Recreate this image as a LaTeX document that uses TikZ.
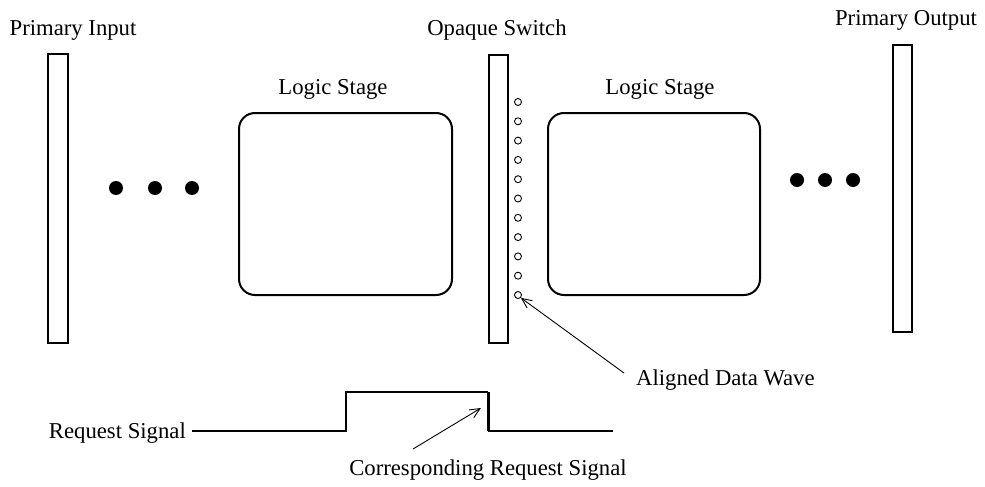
\documentclass[tikz,border=0pt]{standalone}
\usepackage{fontspec}
\setmainfont{Liberation Serif}
\usetikzlibrary{arrows.meta}
\begin{document}
\begin{tikzpicture}[x=1pt,y=-1pt,
  lbl/.style={font=\fontsize{22.7}{26}\selectfont, inner sep=0pt, anchor=base},
  latch/.style={draw, line width=1.5pt},
  stagebox/.style={draw, line width=2pt, rounded corners=16pt},
  bigdot/.style={circle, fill, inner sep=0pt, minimum size=14pt},
  smalldot/.style={circle, draw, line width=0.9pt, inner sep=0pt, minimum size=7pt},
  wave/.style={line width=1.2pt},
  pointer/.style={line width=0.9pt, -{Straight Barb[length=10pt,width=9pt]}}]
\useasboundingbox (0,0) rectangle (985,487);

% latches
\draw[latch] (48,54) rectangle (68,343);
\draw[latch] (489,55) rectangle (508,343);
\draw[latch] (893,45) rectangle (912,332);
\coordinate (inbar) at (58,54);
\coordinate (swbar) at (498,55);
\coordinate (outbar) at (902,45);

% logic stages
\draw[stagebox] (239,113) rectangle (452,295);
\draw[stagebox] (548,113) rectangle (760,295);

% labels
\node[lbl] (pin)  at (73,36)  {Primary Input};
\node[lbl] (psw)  at (497,36) {Opaque Switch};
\node[lbl] (pout) at (906,26) {Primary Output};
\node[lbl] (ls1)  at (333,95) {Logic Stage};
\node[lbl] (ls2)  at (660,95) {Logic Stage};

% ellipsis dots
\node[bigdot] (d1) at (116,188) {};
\node[bigdot] (d2) at (155,188) {};
\node[bigdot] (d3) at (192,188) {};
\node[bigdot] (d4) at (797,180) {};
\node[bigdot] (d5) at (825,180) {};
\node[bigdot] (d6) at (853,180) {};

% data wave bits
\foreach \i in {0,...,10}
  \node[smalldot] (w\i) at (518,{102+19.3*\i}) {};

% aligned data wave pointer
\node[lbl, anchor=base west] (adw) at (636,385) {Aligned Data Wave};
\coordinate (adwtail) at (624,373);
\draw[pointer] (adwtail) -- (w10.south east);

% request signal
\node[lbl, anchor=base east] (rs) at (186,438) {Request Signal};
\coordinate (r0) at (192,431);
\coordinate (r1) at (346,431);
\coordinate (r2) at (346,392);
\coordinate (r3) at (488,392);
\coordinate (r4) at (488,431);
\coordinate (r5) at (613,431);
\draw[wave] (r0) -- (r1) -- (r2) -- (r3);
\draw[line width=3pt] (r3) -- (r4);
\draw[wave] (r4) -- (r5);

% corresponding request pointer
\node[lbl] (crs) at (488,475) {Corresponding Request Signal};
\coordinate (crstail) at (413,449);
\coordinate (crshead) at (481,408);
\draw[pointer] (crstail) -- (crshead);
\end{tikzpicture}
\end{document}
